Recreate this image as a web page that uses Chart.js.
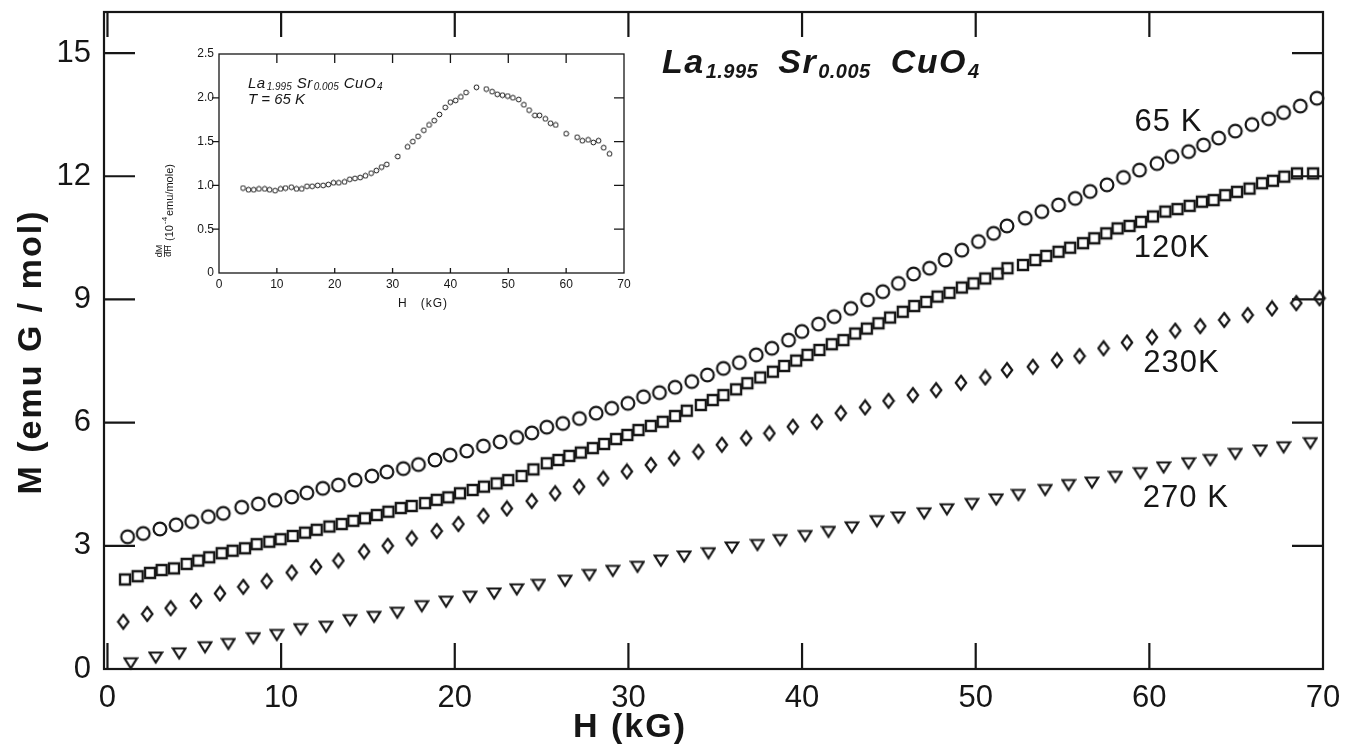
<!DOCTYPE html>
<html lang="en">
<head>
<meta charset="UTF-8" />
<title>La1.995 Sr0.005 CuO4 - M(H)</title>
<script src="https://cdn.jsdelivr.net/npm/chart.js"></script>
<style>
    body { margin: 0; background: #fff; }
    .wrap { position: relative; width: 1348px; height: 746px; }
    #inset { position: absolute; left: 140px; top: 40px; }
</style>
</head>
<body>
<div class="wrap">
    <canvas id="main" width="1348" height="746"></canvas>
    <canvas id="inset" width="500" height="280"></canvas>
</div>

<script>
    // --- main plot: M (emu G/mol) vs H (kG) ---
    const h65 = [1.16, 2.06, 3.02, 3.95, 4.85, 5.81, 6.67, 7.73, 8.69, 9.65, 10.61, 11.48, 12.40, 13.30, 14.26, 15.23, 16.09, 17.04, 17.91, 18.86, 19.73, 20.69, 21.65, 22.61, 23.57, 24.44,
        25.30, 26.22, 27.18, 28.14, 29.04, 29.97, 30.87, 31.79, 32.69, 33.65, 34.55, 35.47, 36.39, 37.36, 38.26, 39.22, 39.99, 40.95, 41.85, 42.81, 43.77, 44.65, 45.55, 46.42, 47.34, 48.24, 49.20, 50.16, 51.03, 51.80,
        52.85, 53.81, 54.77, 55.73, 56.59, 57.56, 58.51, 59.43, 60.44, 61.30, 62.26, 63.12, 63.99, 64.95, 65.91, 66.87, 67.73, 68.69, 69.65];
    const m65 = [3.22, 3.30, 3.41, 3.51, 3.59, 3.71, 3.79, 3.94, 4.02, 4.11, 4.19, 4.29, 4.40, 4.48, 4.60, 4.70, 4.80, 4.88, 4.98, 5.09, 5.21, 5.31, 5.43, 5.53, 5.64, 5.75,
        5.89, 5.98, 6.10, 6.23, 6.35, 6.47, 6.63, 6.73, 6.86, 7.00, 7.16, 7.32, 7.46, 7.65, 7.81, 8.01, 8.22, 8.40, 8.58, 8.78, 8.99, 9.19, 9.39, 9.62, 9.76, 9.96, 10.20, 10.41, 10.61, 10.79,
        10.98, 11.14, 11.30, 11.46, 11.63, 11.79, 11.97, 12.15, 12.31, 12.48, 12.60, 12.76, 12.93, 13.10, 13.26, 13.40, 13.55, 13.71, 13.90];

    const h120 = [1.01, 1.74, 2.45, 3.12, 3.83, 4.56, 5.23, 5.86, 6.58, 7.21, 7.92, 8.59, 9.32, 9.97, 10.67, 11.38, 12.05, 12.78, 13.49, 14.16, 14.83, 15.51, 16.18, 16.89, 17.52, 18.29, 18.96, 19.63, 20.30, 21.03, 21.68, 22.41, 23.08, 23.85, 24.53,
        25.30, 25.97, 26.60, 27.26, 27.95, 28.60, 29.29, 29.94, 30.58, 31.29, 31.98, 32.69, 33.36, 34.17, 34.86, 35.47, 36.20, 36.85, 37.59, 38.32, 38.97, 39.66, 40.31, 41.00, 41.71, 42.38, 43.06, 43.73, 44.40, 45.07, 45.80, 46.46, 47.15, 47.80, 48.49, 49.20, 49.87, 50.55, 51.26, 51.83,
        52.72, 53.43, 54.06, 54.77, 55.44, 56.18, 56.83, 57.52, 58.17, 58.86, 59.52, 60.21, 60.92, 61.62, 62.32, 63.03, 63.70, 64.37, 65.05, 65.77, 66.49, 67.12, 67.77, 68.50, 69.43];
    const m120 = [2.18, 2.26, 2.34, 2.41, 2.45, 2.56, 2.64, 2.72, 2.82, 2.88, 2.94, 3.04, 3.10, 3.16, 3.24, 3.32, 3.39, 3.47, 3.53, 3.61, 3.67, 3.75, 3.83, 3.92, 3.97, 4.04, 4.12, 4.18, 4.28, 4.36, 4.44, 4.52, 4.60, 4.70, 4.86,
        5.01, 5.09, 5.19, 5.27, 5.38, 5.48, 5.60, 5.70, 5.82, 5.92, 6.02, 6.16, 6.29, 6.43, 6.55, 6.67, 6.81, 6.96, 7.10, 7.24, 7.38, 7.51, 7.65, 7.77, 7.91, 8.01, 8.17, 8.29, 8.42, 8.56, 8.70, 8.84, 8.94, 9.07, 9.16, 9.29, 9.39, 9.51, 9.63, 9.76,
        9.84, 9.96, 10.06, 10.16, 10.26, 10.37, 10.49, 10.61, 10.73, 10.79, 10.89, 11.02, 11.14, 11.20, 11.28, 11.38, 11.42, 11.54, 11.62, 11.70, 11.83, 11.89, 11.99, 12.07, 12.07];

    const h230 = [0.91, 2.29, 3.64, 5.10, 6.48, 7.82, 9.17, 10.61, 12.01, 13.30, 14.78, 16.14, 17.52, 18.96, 20.21, 21.65, 23.00, 24.43,
        25.78, 27.16, 28.55, 29.91, 31.29, 32.63, 34.03, 35.38, 36.78, 38.12, 39.47, 40.85,
        42.23, 43.63, 44.98, 46.38, 47.72, 49.15, 50.55, 51.80,
        53.29, 54.68, 55.98, 57.36, 58.71, 60.15, 61.49, 62.93, 64.31, 65.66, 67.06, 68.46, 69.80];
    const m230 = [1.15, 1.34, 1.48, 1.66, 1.84, 2.00, 2.14, 2.35, 2.49, 2.64, 2.86, 3.00, 3.18, 3.36, 3.53, 3.73, 3.91, 4.09,
        4.28, 4.44, 4.64, 4.81, 4.97, 5.13, 5.29, 5.46, 5.62, 5.74, 5.90, 6.02,
        6.23, 6.37, 6.53, 6.67, 6.79, 6.97, 7.10, 7.28,
        7.36, 7.52, 7.62, 7.81, 7.95, 8.08, 8.24, 8.35, 8.50, 8.62, 8.78, 8.91, 9.03];

    const h270 = [1.34, 2.78, 4.13, 5.62, 6.96, 8.40, 9.75, 11.13, 12.59, 13.97, 15.35, 16.69, 18.10, 19.50, 20.88, 22.27, 23.57, 24.82,
        26.35, 27.75, 29.10, 30.52, 31.87, 33.21, 34.61, 35.96, 37.43, 38.74, 40.18, 41.52, 42.87, 44.31, 45.55, 47.03, 48.34, 49.78, 51.18,
        52.46, 54.00, 55.35, 56.69, 58.04, 59.48, 60.82, 62.26, 63.51, 64.95, 66.39, 67.73, 69.27];
    const m270 = [0.14, 0.28, 0.38, 0.53, 0.61, 0.75, 0.83, 0.97, 1.03, 1.19, 1.27, 1.37, 1.53, 1.64, 1.76, 1.84, 1.94, 2.05,
        2.15, 2.29, 2.39, 2.49, 2.64, 2.74, 2.82, 2.96, 3.02, 3.14, 3.24, 3.34, 3.45, 3.60, 3.69, 3.79, 3.89, 4.02, 4.13,
        4.24, 4.36, 4.48, 4.54, 4.68, 4.77, 4.91, 5.01, 5.09, 5.24, 5.32, 5.40, 5.50];

    const xTicks = [0, 10, 20, 30, 40, 50, 60, 70];
    const yTicks = [0, 3, 6, 9, 12, 15];

    // curve labels: [text, H, M]
    const curveLabels = [['65 K', 61.1, 13.3], ['120K', 61.3, 10.23], ['230K', 61.85, 7.45], ['270 K', 62.1, 4.16]];

    // --- inset: dM/dH at T = 65 K ---
    const hInset = [4.15, 5.1, 6.0, 6.9, 7.9, 8.75, 9.7, 10.65, 11.5, 12.5, 13.4, 14.3, 15.2, 16.1, 17.05, 18.0, 18.9, 19.8, 20.7, 21.7,
        22.6, 23.5, 24.4, 25.3, 26.3, 27.2, 28.1, 29.0, 30.9, 32.6, 33.5, 34.4, 35.4, 36.3, 37.2, 38.1, 39.1, 40.0, 40.9, 41.8,
        42.7, 44.5, 46.2, 47.2, 48.1, 49.0, 49.9, 50.8, 51.8, 52.7, 53.6, 54.6, 55.4, 56.4, 57.3, 58.2, 60.0, 61.9, 62.8, 63.8,
        64.7, 65.6, 66.5, 67.5];
    const dmdhInset = [0.97, 0.95, 0.95, 0.96, 0.96, 0.95, 0.94, 0.96, 0.97, 0.98, 0.96, 0.96, 0.99, 0.99, 1.00, 1.00, 1.01, 1.03, 1.03, 1.04,
        1.07, 1.08, 1.09, 1.11, 1.14, 1.17, 1.21, 1.24, 1.33, 1.44, 1.50, 1.56, 1.63, 1.69, 1.74, 1.81, 1.89, 1.95, 1.97, 2.01,
        2.06, 2.12, 2.10, 2.07, 2.04, 2.03, 2.02, 2.00, 1.98, 1.92, 1.86, 1.80, 1.80, 1.76, 1.71, 1.69, 1.59, 1.55, 1.51, 1.52,
        1.49, 1.51, 1.43, 1.36];
    const insetXTicks = [0, 10, 20, 30, 40, 50, 60, 70];
    const insetYTicks = [0, 0.5, 1.0, 1.5, 2.0, 2.5];
    const insetYLabels = ['0', '0.5', '1.0', '1.5', '2.0', '2.5'];

    const INK = '#161616';
    const FONT = '"Liberation Sans", Arial, sans-serif';

    const pts = (xs, ys) => xs.map((v, i) => ({ x: v, y: ys[i] }));

    // hollow marker glyphs
    function marker(w, h, lw, path) {
        const c = document.createElement('canvas');
        c.width = w; c.height = h;
        const g = c.getContext('2d');
        g.strokeStyle = INK;
        g.lineWidth = lw;
        g.beginPath();
        path(g);
        g.closePath();
        g.stroke();
        return c;
    }
    const mkCircle = marker(18, 18, 2.2, g => g.arc(9, 9, 6.4, 0, Math.PI * 2));
    const mkSquare = marker(16, 16, 2.4, g => g.rect(3, 3, 10, 10));
    const mkDiamond = marker(14, 18, 2.2, g => { g.moveTo(7, 2); g.lineTo(12.2, 9); g.lineTo(7, 16); g.lineTo(1.8, 9); });
    const mkTriangle = marker(16, 15, 2.2, g => { g.moveTo(1.8, 2.5); g.lineTo(14.2, 2.5); g.lineTo(8, 12.5); });
    const mkSmall = marker(7, 7, 1, g => g.arc(3.5, 3.5, 2.4, 0, Math.PI * 2));

    function series(label, xs, ys, style) {
        return { label: label, data: pts(xs, ys), pointStyle: style, pointRadius: 6, clip: false };
    }

    // Chart.js reserves room for half of the end tick labels; drop that
    function noPad(s) {
        s.paddingTop = 0; s.paddingBottom = 0; s.paddingLeft = 0; s.paddingRight = 0;
    }

    // box round the plot area with inward ticks (negative length = outward)
    const framePlugin = {
        id: 'frame',
        afterDraw(chart, args, o) {
            const { ctx, chartArea: a } = chart;
            const x = chart.scales.x, y = chart.scales.y;
            ctx.save();
            ctx.strokeStyle = INK;
            ctx.lineWidth = o.lineWidth;
            ctx.strokeRect(a.left, a.top, a.right - a.left, a.bottom - a.top);
            ctx.beginPath();
            o.xTicks.forEach(v => {
                const px = x.getPixelForValue(v);
                if (px <= a.left + 2 || px >= a.right - 2) return;
                ctx.moveTo(px, a.bottom); ctx.lineTo(px, a.bottom - o.bottom);
                ctx.moveTo(px, a.top); ctx.lineTo(px, a.top + o.top);
            });
            o.yTicks.forEach(v => {
                const py = y.getPixelForValue(v);
                if (py >= a.bottom - 2 || py <= a.top + 2) return;
                ctx.moveTo(a.left, py); ctx.lineTo(a.left + o.left, py);
                ctx.moveTo(a.right, py); ctx.lineTo(a.right - o.right, py);
            });
            ctx.stroke();
            ctx.restore();
        }
    };

    // chemical formula with subscripts, laid out by measuring each piece
    function drawFormula(ctx, parts, x, y, f) {
        ctx.save();
        ctx.fillStyle = INK;
        ctx.textBaseline = 'alphabetic';
        ctx.textAlign = 'left';
        parts.forEach(p => {
            const sub = p[1];
            ctx.font = f.weight + ' italic ' + (sub ? f.small : f.big) + 'px ' + FONT;
            ctx.letterSpacing = (sub ? f.subSpacing : f.spacing) + 'px';
            ctx.fillText(p[0], x, y + (sub ? f.drop : 0));
            x += ctx.measureText(p[0]).width + (sub ? f.gap : 1);
        });
        ctx.restore();
    }
    const formula = [['La', 0], ['1.995', 1], ['Sr', 0], ['0.005', 1], ['CuO', 0], ['4', 1]];

    const mainText = {
        id: 'mainText',
        afterDraw(chart) {
            const { ctx } = chart;
            const x = chart.scales.x, y = chart.scales.y;
            ctx.save();
            ctx.fillStyle = INK;
            ctx.textAlign = 'center';
            ctx.textBaseline = 'middle';

            ctx.font = '31px ' + FONT;
            ctx.letterSpacing = '1px';
            curveLabels.forEach(l => ctx.fillText(l[0], x.getPixelForValue(l[1]), y.getPixelForValue(l[2])));

            ctx.font = 'bold 34px ' + FONT;
            ctx.letterSpacing = '2px';
            ctx.fillText('H (kG)', 630, 728);

            ctx.translate(32, 352);
            ctx.rotate(-Math.PI / 2);
            ctx.fillText('M (emu G / mol)', 0, 0);
            ctx.restore();

            drawFormula(ctx, formula, 662, 73, { weight: 'bold', big: 34, small: 20, drop: 5, spacing: 1.5, subSpacing: 0.5, gap: 20 });
        }
    };

    new Chart(document.getElementById('main'), {
        type: 'scatter',
        data: {
            datasets: [
                series('65 K', h65, m65, mkCircle),
                series('120 K', h120, m120, mkSquare),
                series('230 K', h230, m230, mkDiamond),
                series('270 K', h270, m270, mkTriangle)
            ]
        },
        options: {
            responsive: false,
            animation: false,
            devicePixelRatio: 1,
            layout: { padding: { top: 12, right: 25, left: 0, bottom: 0 } },
            plugins: {
                legend: { display: false },
                tooltip: { enabled: false },
                frame: { lineWidth: 2.2, xTicks: xTicks, yTicks: yTicks, top: 25, bottom: 26, left: 31, right: 31 }
            },
            scales: {
                x: {
                    type: 'linear',
                    min: -0.2,
                    max: 70,
                    afterBuildTicks: s => { s.ticks = xTicks.map(v => ({ value: v })); },
                    afterFit: s => { s.height = 77; noPad(s); },
                    grid: { display: false, drawTicks: false },
                    border: { display: false },
                    ticks: { color: INK, font: { family: FONT, size: 31 }, padding: 11, maxRotation: 0, autoSkip: false }
                },
                y: {
                    type: 'linear',
                    min: 0,
                    max: 16,
                    afterBuildTicks: s => { s.ticks = yTicks.map(v => ({ value: v })); },
                    afterFit: s => { s.width = 104; noPad(s); },
                    grid: { display: false, drawTicks: false },
                    border: { display: false },
                    ticks: { color: INK, font: { family: FONT, size: 31 }, padding: 13 }
                }
            }
        },
        plugins: [framePlugin, mainText]
    });

    const insetText = {
        id: 'insetText',
        afterDraw(chart) {
            const { ctx } = chart;
            drawFormula(ctx, formula, 108, 48, { weight: 'normal', big: 15, small: 10, drop: 2, spacing: 0.5, subSpacing: 0, gap: 5 });
            ctx.save();
            ctx.fillStyle = INK;
            ctx.font = 'italic 15px ' + FONT;
            ctx.fillText('T = 65 K', 108, 64);

            ctx.font = '12px ' + FONT;
            ctx.textAlign = 'center';
            ctx.letterSpacing = '1px';
            ctx.fillText('H   (kG)', 283, 267);

            // y-axis title, reads bottom to top
            ctx.translate(0, 218);
            ctx.rotate(-Math.PI / 2);
            ctx.letterSpacing = '0px';
            ctx.textAlign = 'center';
            ctx.font = '9px ' + FONT;
            ctx.fillText('dM', 7, 22);
            ctx.fillText('dH', 7, 31);
            ctx.fillRect(1, 24, 12, 0.8);
            ctx.textAlign = 'left';
            ctx.font = '11px ' + FONT;
            ctx.fillText('(10', 17, 33);
            ctx.font = '8px ' + FONT;
            ctx.fillText('-4', 34, 27);
            ctx.font = '11px ' + FONT;
            ctx.fillText('emu/mole)', 42, 33);
            ctx.restore();
        }
    };

    new Chart(document.getElementById('inset'), {
        type: 'scatter',
        data: {
            datasets: [{ label: 'dM/dH, 65 K', data: pts(hInset, dmdhInset), pointStyle: mkSmall, pointRadius: 3, clip: false }]
        },
        options: {
            responsive: false,
            animation: false,
            devicePixelRatio: 1,
            layout: { padding: { top: 14, right: 16, left: 0, bottom: 0 } },
            plugins: {
                legend: { display: false },
                tooltip: { enabled: false },
                frame: { lineWidth: 1.3, xTicks: insetXTicks, yTicks: insetYTicks, top: 9, bottom: 5, left: -7, right: 10 }
            },
            scales: {
                x: {
                    type: 'linear',
                    min: 0,
                    max: 70,
                    afterBuildTicks: s => { s.ticks = insetXTicks.map(v => ({ value: v })); },
                    afterFit: s => { s.height = 47; noPad(s); },
                    grid: { display: false, drawTicks: false },
                    border: { display: false },
                    ticks: { color: INK, font: { family: FONT, size: 12 }, padding: 4, maxRotation: 0, autoSkip: false }
                },
                y: {
                    type: 'linear',
                    min: 0,
                    max: 2.5,
                    afterBuildTicks: s => { s.ticks = insetYTicks.map(v => ({ value: v })); },
                    afterFit: s => { s.width = 79; noPad(s); },
                    grid: { display: false, drawTicks: false },
                    border: { display: false },
                    ticks: {
                        color: INK, font: { family: FONT, size: 12 }, padding: 5,
                        callback: (v, i) => insetYLabels[i]
                    }
                }
            }
        },
        plugins: [framePlugin, insetText]
    });
</script>
</body>
</html>
